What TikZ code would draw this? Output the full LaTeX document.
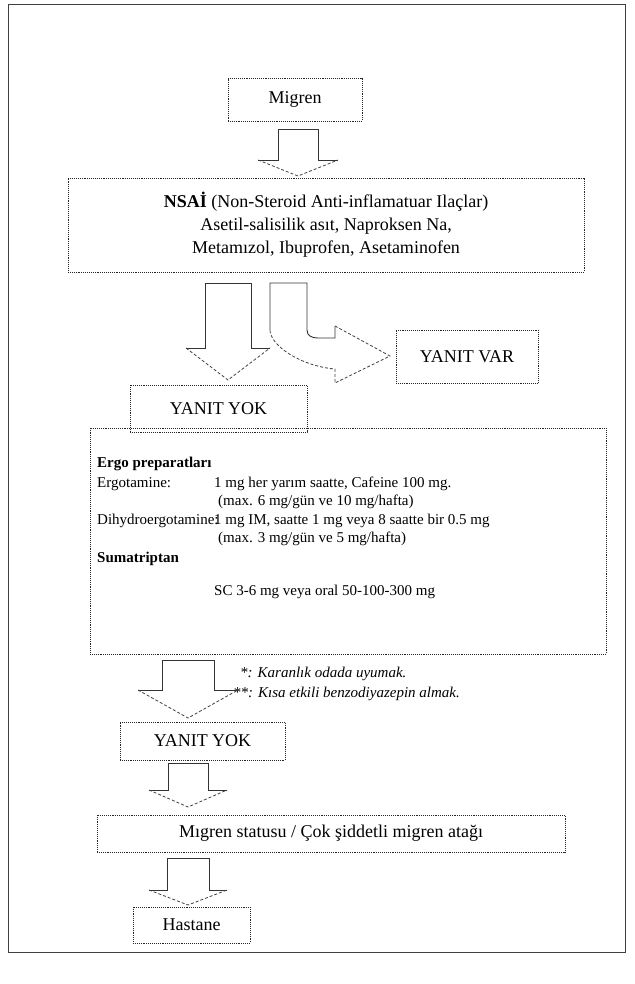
\documentclass[tikz,border=0pt]{standalone}
\usepackage{fontspec}
\setmainfont{Liberation Serif}
\newcommand{\blockdown}[6]{%
  \fill[white] ({#1-#5},#2) -- ({#1+#5},#2) -- ({#1+#5},#3) -- ({#1+#6},#3) -- (#1,#4) -- ({#1-#6},#3) -- ({#1-#5},#3) -- cycle;
  \draw[shaftline] ({#1-#6},#3) -- ({#1-#5},#3) -- ({#1-#5},#2) -- ({#1+#5},#2) -- ({#1+#5},#3) -- ({#1+#6},#3);
  \draw[headline] ({#1-#6},#3) -- (#1,#4) -- ({#1+#6},#3);
}
\begin{document}
\begin{tikzpicture}[x=1pt,y=-1pt,
  box/.style={draw=black!85, densely dotted, line width=0.9pt, inner sep=0pt,
    font=\fontsize{18}{23}\selectfont},
  shaftline/.style={draw=black!80, line width=0.9pt},
  headline/.style={draw=black!75, line width=0.8pt, densely dashed},
  txt/.style={inner sep=0pt, anchor=base west, font=\fontsize{15}{18}\selectfont},
  btxt/.style={inner sep=0pt, anchor=base west, font=\fontsize{15}{18}\selectfont\bfseries},
  itxt/.style={inner sep=0pt, anchor=base west, font=\fontsize{15}{18}\selectfont\itshape},
]
\useasboundingbox (0,0) rectangle (634,984);
\draw[black!75, line width=1pt] (8,5) rectangle (625,952);

% boxes
\node[box, minimum width=134pt, minimum height=43pt] (migren) at (295,99.5) {Migren};
\node[box, minimum width=516pt, minimum height=94pt, align=center] (nsai) at (326,225)
  {\textbf{NSAİ} (Non-Steroid Anti-inflamatuar Ilaçlar)\\Asetil-salisilik asıt, Naproksen Na,\\Metamızol, Ibuprofen, Asetaminofen};
\node[box, minimum width=142pt, minimum height=53pt] (var) at (467,356.5) {YANIT VAR};
\node[box, minimum width=177pt, minimum height=47pt] (yok1) at (218.5,408.5) {YANIT YOK};
\node[box, minimum width=516pt, minimum height=226pt] (ergo) at (348,541) {};
\node[box, minimum width=165pt, minimum height=38pt] (yok2) at (202.5,741) {YANIT YOK};
\node[box, minimum width=468pt, minimum height=37pt] (status) at (331,833.5) {Mıgren statusu / Çok şiddetli migren atağı};
\node[box, minimum width=117pt, minimum height=36pt] (hast) at (191.5,925) {Hastane};

% ergo box contents
\node[btxt] (e1) at (97,467) {Ergo preparatları};
\node[txt] (e2) at (97,487) {Ergotamine:};
\node[txt] (e3) at (214,487) {1 mg her yarım saatte, Cafeine 100 mg.};
\node[txt] (e4) at (218,505) {(max. 6 mg/gün ve 10 mg/hafta)};
\node[txt] (e5) at (97,524) {Dihydroergotamine:};
\node[txt] (e6) at (214,524) {1 mg IM, saatte 1 mg veya 8 saatte bir 0.5 mg};
\node[txt] (e7) at (218,542) {(max. 3 mg/gün ve 5 mg/hafta)};
\node[btxt] (e8) at (97,562) {Sumatriptan};
\node[txt] (e9) at (214,595) {SC 3-6 mg veya oral 50-100-300 mg};

% footnotes
\node[itxt] (f1) at (240,677) {*: Karanlık odada uyumak.};
\node[itxt] (f2) at (233,697) {**: Kısa etkili benzodiyazepin almak.};

% arrows
\blockdown{298}{129}{160}{176}{20}{40}
\blockdown{228}{283}{348}{380}{23}{42}
\blockdown{188}{660}{690}{718}{26}{50}
\blockdown{188}{763}{790}{807}{20}{39}
\blockdown{188}{858}{890}{905}{21}{39}

% bent arrow to YANIT VAR
\fill[white] (270,283) -- (307,283) -- (307,330) .. controls (307,336) and (312,338) .. (318,338)
  -- (335,338) -- (335,326) -- (390,356) -- (335,383) -- (335,369)
  .. controls (300,366) and (270,345) .. (270,330) -- cycle;
\draw[shaftline] (270,330) -- (270,283) -- (307,283) -- (307,330) .. controls (307,336) and (312,338) .. (318,338) -- (335,338) -- (335,326);
\draw[headline] (335,326) -- (390,356) -- (335,383) -- (335,369)
  .. controls (300,366) and (270,345) .. (270,330);
\end{tikzpicture}
\end{document}
